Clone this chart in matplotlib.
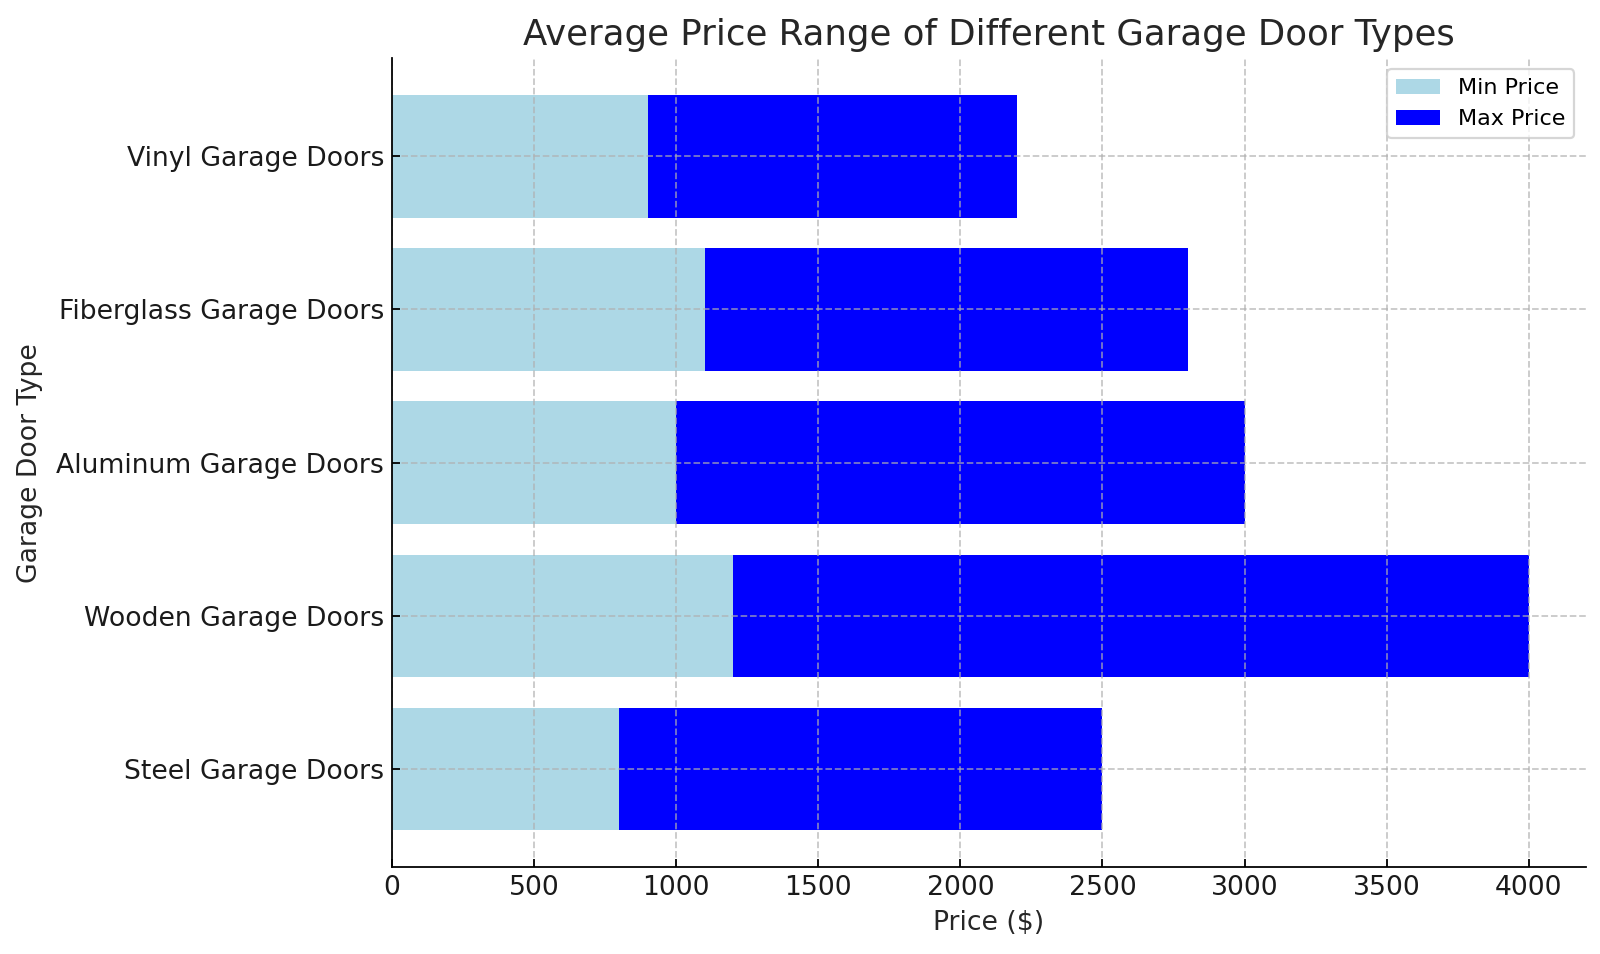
import matplotlib.pyplot as plt

# Data
door_types = [
    "Steel Garage Doors",
    "Wooden Garage Doors",
    "Aluminum Garage Doors",
    "Fiberglass Garage Doors",
    "Vinyl Garage Doors",
]
min_price = [800, 1200, 1000, 1100, 900]
max_price = [2500, 4000, 3000, 2800, 2200]

fig, ax = plt.subplots(figsize=(10, 5.9625), dpi=160)

# Min bar from 0, max bar drawn from min to max
ax.barh(door_types, min_price, color='lightblue', label='Min Price')
ax.barh(door_types, [mx - mn for mn, mx in zip(min_price, max_price)],
        left=min_price, color='blue', label='Max Price')

ax.set_title('Average Price Range of Different Garage Door Types', fontsize=16, color='#262626')
ax.set_xlabel('Price ($)', fontsize=12, color='#262626')
ax.set_ylabel('Garage Door Type', fontsize=12, color='#262626', labelpad=6)
ax.tick_params(axis='both', labelsize=12, direction='in', labelcolor='#1a1a1a')
ax.set_xlim(0, 4200)

# grid sits on top of the bars
ax.grid(True, linestyle='--', color='#b0b0b0', alpha=0.7, linewidth=0.8)
ax.set_axisbelow(False)
ax.spines['top'].set_visible(False)
ax.spines['right'].set_visible(False)
for side in ['left', 'bottom']:
    ax.spines[side].set_zorder(5)

ax.legend(loc='upper right', fontsize=10)

fig.subplots_adjust(left=0.245, right=0.991, top=0.939, bottom=0.091)
fig.savefig('out.png')
